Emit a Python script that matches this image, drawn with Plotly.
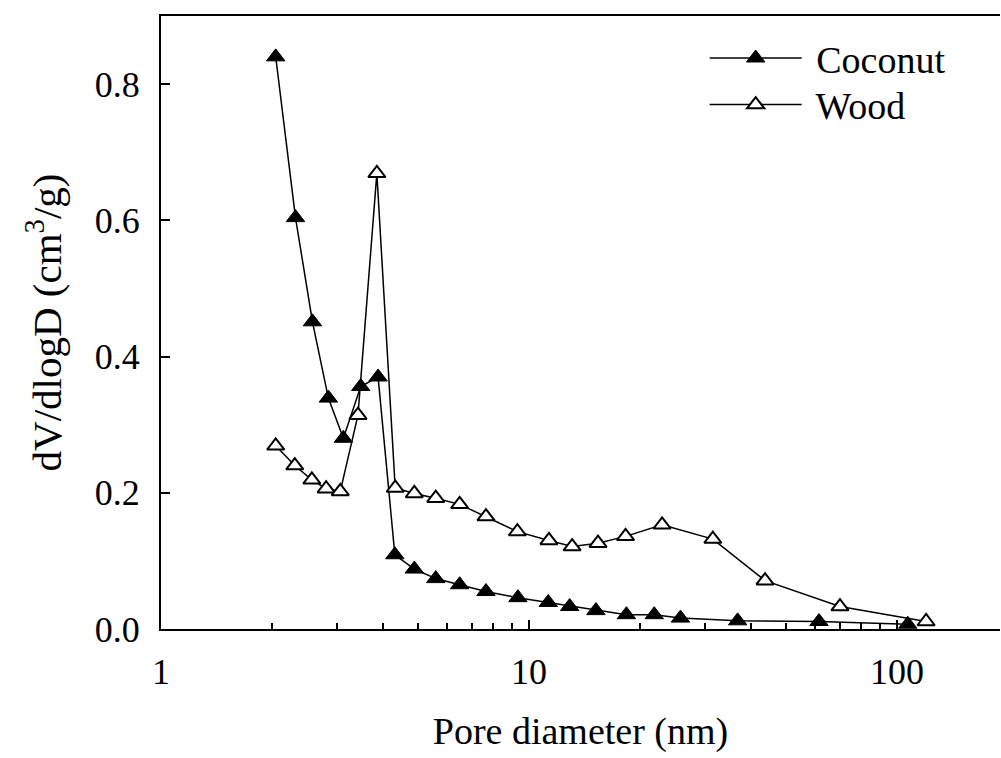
import plotly.graph_objects as go

coconut_d = [2.05, 2.32, 2.58, 2.85, 3.13, 3.49, 3.89, 4.32, 4.88, 5.58, 6.48, 7.64,
             9.33, 11.28, 12.9, 15.2, 18.4, 21.9, 25.8, 36.9, 61.4, 107]
coconut_v = [0.840, 0.604, 0.451, 0.339, 0.280, 0.356, 0.370, 0.109, 0.088, 0.074, 0.065, 0.055,
             0.046, 0.039, 0.033, 0.027, 0.021, 0.021, 0.016, 0.012, 0.011, 0.007]

wood_d = [2.05, 2.31, 2.57, 2.81, 3.07, 3.43, 3.86, 4.33, 4.88, 5.58, 6.48, 7.64,
          9.3, 11.33, 13.1, 15.4, 18.3, 23.0, 31.6, 43.8, 70.0, 120]
wood_v = [0.269, 0.240, 0.219, 0.206, 0.202, 0.314, 0.669, 0.207, 0.199, 0.192, 0.183, 0.165,
          0.143, 0.130, 0.121, 0.126, 0.136, 0.153, 0.132, 0.071, 0.033, 0.011]

y_ticks = [0.0, 0.2, 0.4, 0.6, 0.8]
x_ticks = [1, 10, 100]

FONT = "Liberation Serif, Times New Roman, serif"

fig = go.Figure()
fig.add_trace(go.Scatter(
    x=coconut_d, y=coconut_v, mode="lines+markers", name=" Coconut",
    legend="legend",
    line=dict(color="black", width=1.5),
    marker=dict(symbol="triangle-up", size=16, color="black",
                line=dict(color="black", width=1)),
))
fig.add_trace(go.Scatter(
    x=wood_d, y=wood_v, mode="lines+markers", name=" Wood",
    legend="legend2",
    line=dict(color="black", width=1.5),
    marker=dict(symbol="triangle-up", size=15, color="white",
                line=dict(color="black", width=2)),
))

leg_common = dict(xanchor="left", yanchor="middle", bgcolor="rgba(0,0,0,0)",
                  font=dict(size=38, family=FONT), itemwidth=92)

fig.update_layout(
    width=1001, height=758,
    margin=dict(l=161, r=1, t=16, b=129),
    paper_bgcolor="white", plot_bgcolor="white",
    font=dict(family=FONT, size=36, color="black"),
    showlegend=True,
    legend=dict(x=0.648, y=0.931, **leg_common),
    legend2=dict(x=0.648, y=0.855, **leg_common),
)
fig.update_xaxes(
    type="log", range=[0, 2.28],
    tickvals=x_ticks, ticktext=[str(v) for v in x_ticks],
    ticks="inside", ticklen=9, tickwidth=1.5, tickcolor="black",
    ticklabelstandoff=10,
    minor=dict(ticks="inside", ticklen=6, tickwidth=1.5, tickcolor="black",
               dtick="D1", showgrid=False),
    showline=True, linecolor="black", linewidth=2, mirror=True,
    showgrid=False, zeroline=False,
    tickfont=dict(size=36, family=FONT),
    title=dict(text="Pore diameter (nm)", font=dict(size=38, family=FONT), standoff=26),
)
fig.update_yaxes(
    range=[0, 0.9],
    tickvals=y_ticks, ticktext=[f"{v:.1f}" for v in y_ticks],
    ticks="inside", ticklen=9, tickwidth=1.5, tickcolor="black",
    ticklabelstandoff=12,
    showline=True, linecolor="black", linewidth=2, mirror=False,
    showgrid=False, zeroline=False,
    tickfont=dict(size=36, family=FONT),
    title=dict(text="dV/dlogD (cm<sup>3</sup>/g)", font=dict(size=41, family=FONT), standoff=20),
)

fig.write_html("out.html")
